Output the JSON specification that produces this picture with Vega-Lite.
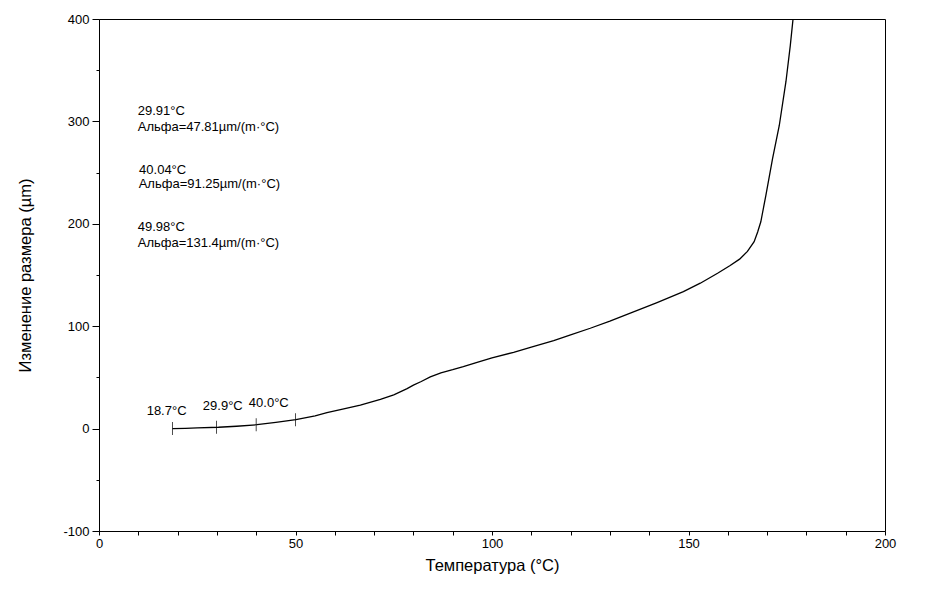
{
  "$schema": "https://vega.github.io/schema/vega-lite/v6.json",
  "width": 786,
  "height": 512,
  "autosize": {"type": "none"},
  "padding": {"left": 99, "top": 19, "right": 55, "bottom": 59},
  "background": "white",
  "config": {
    "view": {"stroke": "black", "strokeWidth": 1},
    "font": "Liberation Sans",
    "axis": {
      "domainColor": "black", "tickColor": "black", "labelColor": "black", "titleColor": "black",
      "grid": false, "labelFont": "Liberation Sans", "titleFont": "Liberation Sans",
      "labelFontSize": 13, "titleFontSize": 16.5, "titleFontWeight": "normal", "labelOverlap": false
    }
  },
  "datasets": {
    "curve": [
      {"T": 18.7, "v": 0}, {"T": 22, "v": 0.3}, {"T": 25, "v": 0.7}, {"T": 30.4, "v": 1.3},
      {"T": 35, "v": 2.3}, {"T": 40.2, "v": 3.8}, {"T": 45, "v": 6}, {"T": 50.1, "v": 8.7},
      {"T": 55, "v": 12.5}, {"T": 58, "v": 15.5}, {"T": 62, "v": 19}, {"T": 66.5, "v": 23},
      {"T": 71.6, "v": 28.5}, {"T": 75, "v": 33}, {"T": 78.4, "v": 39}, {"T": 80, "v": 42.5},
      {"T": 82, "v": 46}, {"T": 84.3, "v": 50.5}, {"T": 87, "v": 54.5}, {"T": 90, "v": 57.5},
      {"T": 92.7, "v": 60.5}, {"T": 96, "v": 64.5}, {"T": 100, "v": 69}, {"T": 105.5, "v": 74.5},
      {"T": 110, "v": 79.5}, {"T": 115.7, "v": 86}, {"T": 120, "v": 91.5}, {"T": 125, "v": 98},
      {"T": 130, "v": 105}, {"T": 136, "v": 114}, {"T": 142, "v": 123}, {"T": 148.7, "v": 133.7},
      {"T": 153, "v": 142}, {"T": 157.4, "v": 151.7}, {"T": 160.5, "v": 159}, {"T": 163, "v": 165.5},
      {"T": 165, "v": 173}, {"T": 166.7, "v": 182.5}, {"T": 167.6, "v": 192}, {"T": 168.4, "v": 202},
      {"T": 169.7, "v": 228}, {"T": 171.4, "v": 264}, {"T": 173.1, "v": 296}, {"T": 174.8, "v": 339},
      {"T": 175.9, "v": 374}, {"T": 176.6, "v": 400}
    ],
    "markers": [
      {"T": 18.7, "v": 0}, {"T": 29.9, "v": 1.3}, {"T": 40.0, "v": 3.8}, {"T": 50.0, "v": 8.6}
    ],
    "curveLabels": [
      {"T": 17.2, "v": 17.2, "label": "18.7°C"},
      {"T": 31.5, "v": 22, "label": "29.9°C"},
      {"T": 43.2, "v": 25, "label": "40.0°C"}
    ],
    "notes": [
      {"T": 9.85, "v": 309.7, "label": "29.91°C"},
      {"T": 9.85, "v": 295, "label": "Альфа=47.81µm/(m·°C)"},
      {"T": 10.2, "v": 253, "label": "40.04°C"},
      {"T": 10.1, "v": 238.4, "label": "Альфа=91.25µm/(m·°C)"},
      {"T": 9.85, "v": 196.4, "label": "49.98°C"},
      {"T": 9.85, "v": 181.7, "label": "Альфа=131.4µm/(m·°C)"}
    ]
  },
  "layer": [
    {
      "data": {"name": "curve"},
      "mark": {"type": "line", "color": "black", "strokeWidth": 1.3, "clip": true},
      "encoding": {
        "x": {
          "field": "T", "type": "quantitative",
          "scale": {"domain": [0, 200], "nice": false, "zero": false},
          "axis": {
            "title": "Температура (°C)",
            "values": [0,10,20,30,40,50,60,70,80,90,100,110,120,130,140,150,160,170,180,190,200],
            "tickCount": 60,
            "labelExpr": "datum.value % 50 == 0 ? '' + datum.value : ''",
            "tickSize": 4, "labelPadding": 2, "titlePadding": 7, "labelFlush": false, "labelOverlap": false
          }
        },
        "y": {
          "field": "v", "type": "quantitative",
          "scale": {"domain": [-100, 400], "nice": false, "zero": false},
          "axis": {
            "title": "Изменение размера (µm)",
            "values": [-100,-50,0,50,100,150,200,250,300,350,400],
            "tickCount": 40,
            "labelExpr": "datum.value % 100 == 0 ? '' + datum.value : ''",
            "tickSize": {"condition": {"test": "datum.value % 100 != 0", "value": 3}, "value": 7},
            "labelPadding": 3, "titlePadding": 29, "labelFlush": false, "labelOverlap": false
          }
        }
      }
    },
    {
      "data": {"name": "markers"},
      "mark": {"type": "tick", "orient": "vertical", "color": "black", "size": 13, "thickness": 1},
      "encoding": {
        "x": {"field": "T", "type": "quantitative"},
        "y": {"field": "v", "type": "quantitative"}
      }
    },
    {
      "data": {"name": "curveLabels"},
      "mark": {"type": "text", "color": "black", "fontSize": 13, "align": "center", "baseline": "middle", "font": "Liberation Sans"},
      "encoding": {
        "x": {"field": "T", "type": "quantitative"},
        "y": {"field": "v", "type": "quantitative"},
        "text": {"field": "label"}
      }
    },
    {
      "data": {"name": "notes"},
      "mark": {"type": "text", "color": "black", "fontSize": 13, "align": "left", "baseline": "middle", "font": "Liberation Sans"},
      "encoding": {
        "x": {"field": "T", "type": "quantitative"},
        "y": {"field": "v", "type": "quantitative"},
        "text": {"field": "label"}
      }
    }
  ]
}
